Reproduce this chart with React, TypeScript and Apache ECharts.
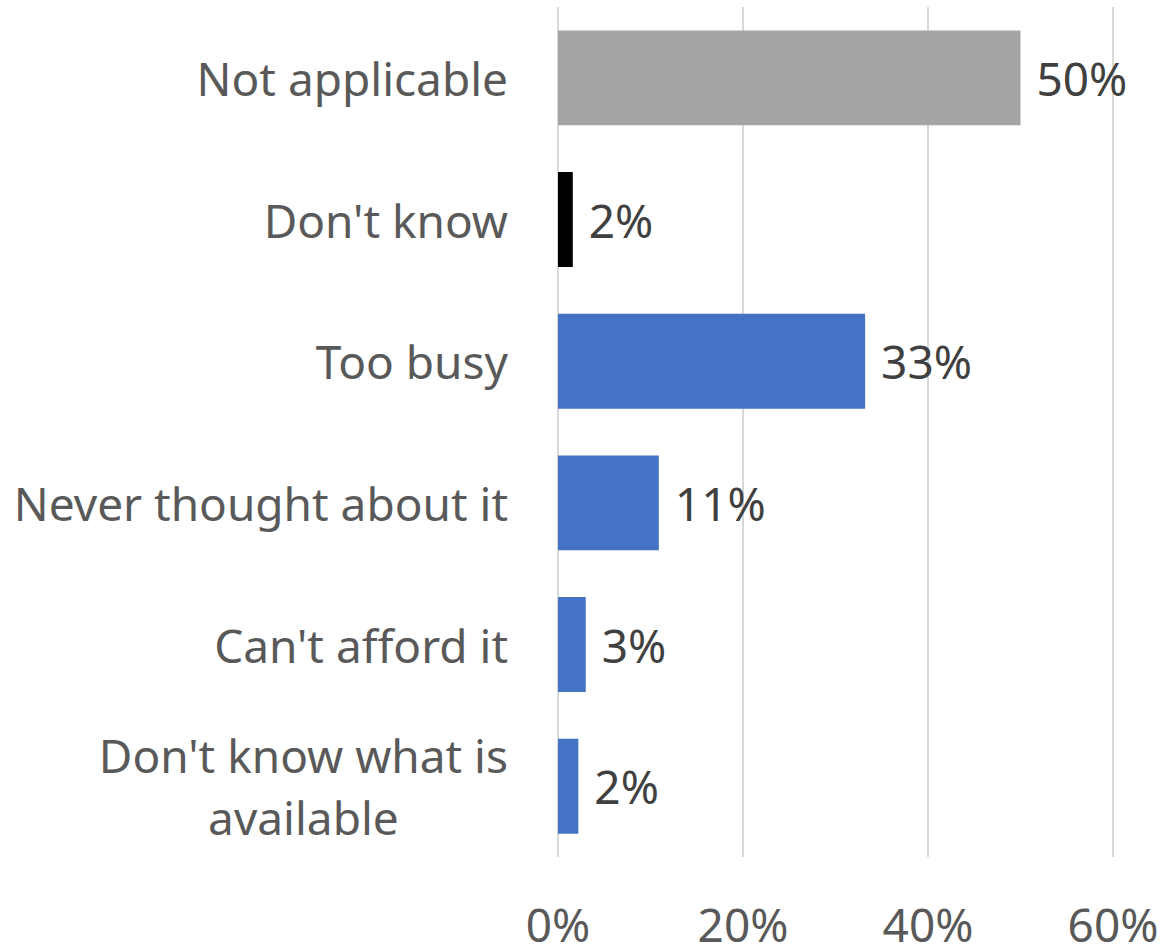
import React, { useEffect, useRef } from "react";
import * as echarts from "echarts";

const categories = [
  "Not applicable",
  "Don't know",
  "Too busy",
  "Never thought about it",
  "Can't afford it",
  "Don't know what is\navailable",
];
const values = [0.5, 0.016, 0.332, 0.109, 0.03, 0.022];
const barColors = ["#A5A5A5", "#000000", "#4472C4", "#4472C4", "#4472C4", "#4472C4"];
const xTicks = [0, 0.2, 0.4, 0.6];

const FONT = "'Noto Sans', 'Open Sans', sans-serif";
const FS = 46;

export default function App() {
  const ref = useRef<HTMLDivElement>(null);
  useEffect(() => {
    if (!ref.current) return;
    const chart = echarts.init(ref.current, undefined, { renderer: "svg" });
    chart.setOption({
      animation: false,
      grid: { left: 558, right: 50, top: 7, bottom: 90, containLabel: false },
      xAxis: {
        type: "value",
        min: xTicks[0],
        max: xTicks[xTicks.length - 1],
        interval: 0.2,
        axisLine: { show: false },
        axisTick: { show: false },
        splitLine: { show: true, lineStyle: { color: "#D9D9D9", width: 2 } },
        axisLabel: {
          margin: 44,
          fontSize: FS,
          fontFamily: FONT,
          color: "#595959",
          formatter: (v: number) => `${Math.round(v * 100)}%`,
        },
      },
      yAxis: {
        type: "category",
        inverse: true,
        data: categories,
        axisLine: { show: false },
        axisTick: { show: false },
        axisLabel: {
          margin: 50,
          fontSize: FS,
          fontFamily: FONT,
          color: "#595959",
          lineHeight: 62,
          formatter: (v: string) =>
            v
              .split("\n")
              .map((l) => `{c|${l}}`)
              .join("\n"),
          rich: {
            c: {
              align: "center",
              fontSize: FS,
              fontFamily: FONT,
              color: "#595959",
              lineHeight: 62,
            },
          },
        },
      },
      series: [
        {
          type: "bar",
          barCategoryGap: "33%",
          data: values.map((v, i) => ({ value: v, itemStyle: { color: barColors[i] } })),
          label: {
            show: true,
            position: "right",
            distance: 16,
            fontSize: FS,
            fontFamily: FONT,
            color: "#404040",
            formatter: (p: any) => `${Math.round(p.value * 100)}%`,
          },
        },
      ],
    });
    return () => chart.dispose();
  }, []);
  return <div ref={ref} style={{ width: 1163, height: 947, position: "absolute", left: 0, top: 0 }} />;
}
